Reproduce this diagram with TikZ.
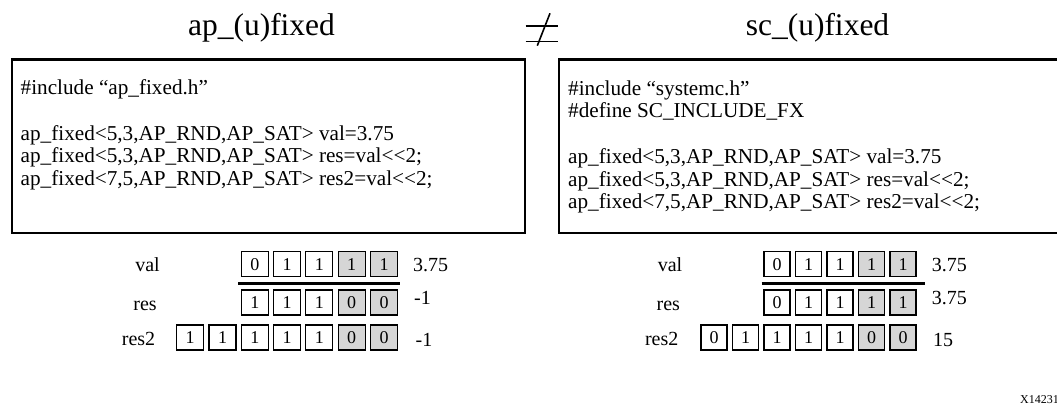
\documentclass[tikz,border=0pt]{standalone}
\usepackage{fontspec}
\setmainfont{Liberation Serif}
\definecolor{cellgray}{RGB}{214,214,214}
\begin{document}
\begin{tikzpicture}[x=1pt,y=-1pt,
  codebox/.style={draw,line width=2.3pt,inner sep=0,anchor=north west},
  code/.style={anchor=base west,inner sep=0,font=\fontsize{21.2}{22.5}\selectfont},
  title/.style={anchor=base,inner sep=0,font=\fontsize{31.5}{33}\selectfont},
  lbl/.style={anchor=base,inner sep=0,font=\fontsize{20}{22}\selectfont},
  num/.style={anchor=base west,inner sep=0,font=\fontsize{20}{22}\selectfont},
  cell/.style={draw,line width=1.1pt,minimum width=26pt,minimum height=25pt,inner sep=0,font=\fontsize{18}{20}\selectfont},
  lcell/.style={cell,minimum width=27pt},
  wc/.style={fill=white},
  gc/.style={fill=cellgray},
  bar/.style={line width=3.2pt},
  neqline/.style={line width=1.6pt},
]
\useasboundingbox (0,0) rectangle (1057,406);

% titles
\node[title] (tleft) at (261.5,36) {ap\_(u)fixed};
\node[title] (tright) at (817.5,36) {sc\_(u)fixed};

% not-equal sign
\coordinate (nq1) at (525.7,26);
\coordinate (nq2) at (557.7,26);
\coordinate (nq3) at (525.7,41.7);
\coordinate (nq4) at (557.7,41.7);
\coordinate (nq5) at (550,13.3);
\coordinate (nq6) at (537.3,45.7);
\draw[neqline] (nq1) -- (nq2);
\draw[neqline] (nq3) -- (nq4);
\draw[neqline] (nq5) -- (nq6);

% code boxes
\node[codebox,minimum width=513.5pt,minimum height=173.5pt] (lbox) at (10.5,58.5) {};
\node[codebox,minimum width=520pt,minimum height=173.5pt] (rbox) at (558,58.5) {};

% left code
\node[code] (lc1) at (20.5,95) {\#include “ap\_fixed.h”};
\node[code] (lc3) at (20.5,140.5) {ap\_fixed{<}5,3,AP\_RND,AP\_SAT{>} val=3.75};
\node[code] (lc4) at (20.5,163) {ap\_fixed{<}5,3,AP\_RND,AP\_SAT{>} res=val{<}{<}2;};
\node[code] (lc5) at (20.5,185.5) {ap\_fixed{<}7,5,AP\_RND,AP\_SAT{>} res2=val{<}{<}2;};

% right code
\node[code] (rc1) at (568,95.5) {\#include “systemc.h”};
\node[code] (rc2) at (568,118) {\#define SC\_INCLUDE\_FX};
\node[code] (rc4) at (568,163.5) {ap\_fixed{<}5,3,AP\_RND,AP\_SAT{>} val=3.75};
\node[code] (rc5) at (568,186) {ap\_fixed{<}5,3,AP\_RND,AP\_SAT{>} res=val{<}{<}2;};
\node[code] (rc6) at (568,208.5) {ap\_fixed{<}7,5,AP\_RND,AP\_SAT{>} res2=val{<}{<}2;};

% left bit rows
\node[lbl] (llval) at (147.5,271.5) {val};
\node[lbl] (llres) at (145,310) {res};
\node[lbl] (llres2) at (138.5,345) {res2};
\foreach \b/\s [count=\i] in {0/wc,1/wc,1/wc,1/gc,1/gc}
  \node[lcell,\s] (lval\i) at ({384-(5-\i)*32.3},264.2) {\b};
\foreach \b/\s [count=\i] in {1/wc,1/wc,1/wc,0/gc,0/gc}
  \node[lcell,\s] (lres\i) at ({384-(5-\i)*32.3},302.5) {\b};
\foreach \b/\s [count=\i] in {1/wc,1/wc,1/wc,1/wc,1/wc,0/gc,0/gc}
  \node[lcell,\s] (lrestwo\i) at ({384-(7-\i)*32.3},337.5) {\b};
\coordinate (lbarA) at (238.3,283.7);
\coordinate (lbarB) at (400,283.7);
\draw[bar] (lbarA) -- (lbarB);
\node[num] (lnval) at (413,271.5) {3.75};
\node[num] (lnres) at (414,304.5) {-1};
\node[num] (lnres2) at (415.5,346.5) {-1};

% right bit rows
\node[lbl] (rlval) at (670,271.5) {val};
\node[lbl] (rlres) at (668.3,310) {res};
\node[lbl] (rlres2) at (661.7,345) {res2};
\foreach \b/\s [count=\i] in {0/wc,1/wc,1/wc,1/gc,1/gc}
  \node[cell,\s] (rval\i) at ({903-(5-\i)*31.5},264.2) {\b};
\foreach \b/\s [count=\i] in {0/wc,1/wc,1/wc,1/gc,1/gc}
  \node[cell,\s] (rres\i) at ({903-(5-\i)*31.5},302.5) {\b};
\foreach \b/\s [count=\i] in {0/wc,1/wc,1/wc,1/wc,1/wc,0/gc,0/gc}
  \node[cell,\s] (rrestwo\i) at ({903-(7-\i)*31.5},337.5) {\b};
\coordinate (rbarA) at (761.7,283.7);
\coordinate (rbarB) at (925,283.7);
\draw[bar] (rbarA) -- (rbarB);
\node[num] (rnval) at (931.7,271.5) {3.75};
\node[num] (rnres) at (931.7,304.5) {3.75};
\node[num] (rnres2) at (933,346.5) {15};

% figure id
\node[anchor=base west,inner sep=0,font=\fontsize{12}{13}\selectfont] (fid) at (1020,403) {X14231};
\end{tikzpicture}
\end{document}
